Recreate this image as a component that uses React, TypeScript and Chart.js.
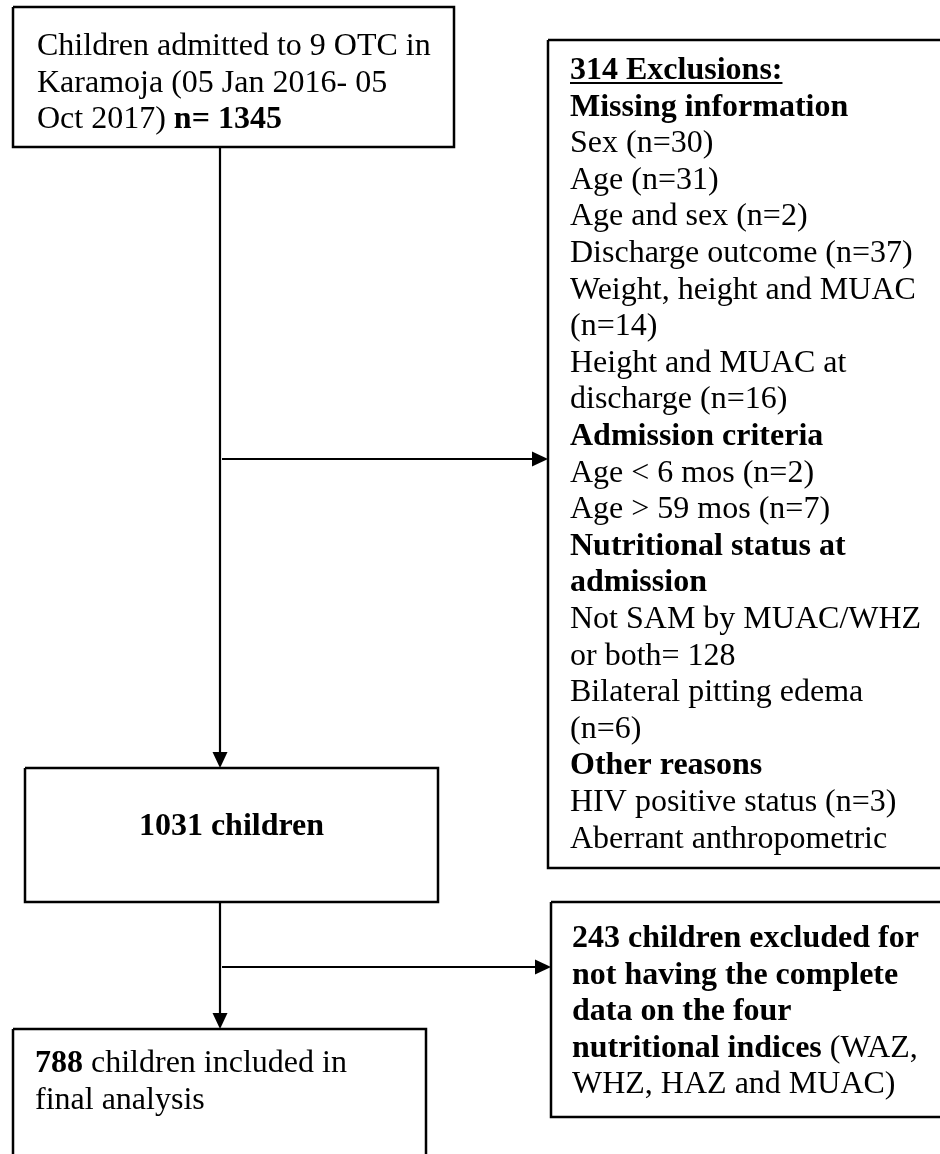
import React, { useEffect, useRef } from "react";
import { Chart, registerables } from "chart.js";

Chart.register(...registerables);

// ---- Data (texts and counts of the flow diagram) ----
// style: "n" normal, "b" bold, "u" bold + underline
type Seg = [string, "n" | "b" | "u"];

const admittedLines: Seg[][] = [
  [["Children admitted to 9 OTC in", "n"]],
  [["Karamoja (05 Jan 2016- 05", "n"]],
  [["Oct 2017) ", "n"], ["n= 1345", "b"]],
];

const exclusionLines: Seg[][] = [
  [["314 Exclusions:", "u"]],
  [["Missing information", "b"]],
  [["Sex (n=30)", "n"]],
  [["Age (n=31)", "n"]],
  [["Age and sex (n=2)", "n"]],
  [["Discharge outcome (n=37)", "n"]],
  [["Weight, height and MUAC", "n"]],
  [["(n=14)", "n"]],
  [["Height and MUAC at", "n"]],
  [["discharge (n=16)", "n"]],
  [["Admission criteria", "b"]],
  [["Age < 6 mos (n=2)", "n"]],
  [["Age > 59 mos (n=7)", "n"]],
  [["Nutritional status at", "b"]],
  [["admission", "b"]],
  [["Not SAM by MUAC/WHZ", "n"]],
  [["or both= 128", "n"]],
  [["Bilateral pitting edema", "n"]],
  [["(n=6)", "n"]],
  [["Other reasons", "b"]],
  [["HIV positive status (n=3)", "n"]],
  [["Aberrant anthropometric", "n"]],
];

const retainedLines: Seg[][] = [[["1031 children", "b"]]];

const incompleteLines: Seg[][] = [
  [["243 children excluded for", "b"]],
  [["not having the complete", "b"]],
  [["data on the four", "b"]],
  [["nutritional indices", "b"], [" (WAZ,", "n"]],
  [["WHZ, HAZ and MUAC)", "n"]],
];

const finalLines: Seg[][] = [
  [["788", "b"], [" children included in", "n"]],
  [["final analysis", "n"]],
];

// ---- Layout (positions in the diagram's coordinate space) ----
const W = 940;
const H = 1154;
const LINE_H = 36.6;
const FONT_SIZE = 32;
const FONT_FAMILY = '"Liberation Serif", "Times New Roman", serif';

type BoxLayout = {
  x0: number; y0: number; x1: number; y1: number;
  tx: number; ty: number; align: "left" | "center";
  lines: Seg[][];
};

const boxLayouts: BoxLayout[] = [
  { x0: 13, y0: 7, x1: 454, y1: 147, tx: 37, ty: 55, align: "left", lines: admittedLines },
  { x0: 548, y0: 40, x1: 960, y1: 868, tx: 570, ty: 79, align: "left", lines: exclusionLines },
  { x0: 25, y0: 768, x1: 438, y1: 902, tx: 231.5, ty: 835, align: "center", lines: retainedLines },
  { x0: 551, y0: 902, x1: 960, y1: 1117, tx: 572, ty: 947, align: "left", lines: incompleteLines },
  { x0: 13, y0: 1029, x1: 426, y1: 1180, tx: 35, ty: 1072, align: "left", lines: finalLines },
];

type Arrow = { from: [number, number]; to: [number, number] };
const arrows: Arrow[] = [
  { from: [220, 147], to: [220, 768] },
  { from: [222, 459], to: [548, 459] },
  { from: [220, 902], to: [220, 1029] },
  { from: [222, 967], to: [551, 967] },
];

const HEAD_LEN = 16;
const HEAD_HALF = 7.5;

function fontFor(style: Seg[1]) {
  return `${style === "n" ? "" : "bold "}${FONT_SIZE}px ${FONT_FAMILY}`;
}

const flowPlugin = {
  id: "flowText",
  afterDatasetsDraw(chart: any) {
    const ctx: CanvasRenderingContext2D = chart.ctx;
    const xs = chart.scales.x;
    const ys = chart.scales.y;
    ctx.save();
    ctx.fillStyle = "#000";
    ctx.strokeStyle = "#000";
    ctx.textBaseline = "alphabetic";
    ctx.textAlign = "left";

    // arrow heads
    arrows.forEach((a) => {
      const tx = xs.getPixelForValue(a.to[0]);
      const ty = ys.getPixelForValue(a.to[1]);
      const fx = xs.getPixelForValue(a.from[0]);
      const fy = ys.getPixelForValue(a.from[1]);
      const ang = Math.atan2(ty - fy, tx - fx);
      const bx = tx - HEAD_LEN * Math.cos(ang);
      const by = ty - HEAD_LEN * Math.sin(ang);
      ctx.beginPath();
      ctx.moveTo(tx, ty);
      ctx.lineTo(bx + HEAD_HALF * Math.sin(ang), by - HEAD_HALF * Math.cos(ang));
      ctx.lineTo(bx - HEAD_HALF * Math.sin(ang), by + HEAD_HALF * Math.cos(ang));
      ctx.closePath();
      ctx.fill();
    });

    // texts
    boxLayouts.forEach((b) => {
      b.lines.forEach((line, i) => {
        const y = ys.getPixelForValue(b.ty + i * LINE_H);
        let total = 0;
        line.forEach(([t, s]) => {
          ctx.font = fontFor(s);
          total += ctx.measureText(t).width;
        });
        let x = xs.getPixelForValue(b.tx);
        if (b.align === "center") x -= total / 2;
        line.forEach(([t, s]) => {
          ctx.font = fontFor(s);
          const w = ctx.measureText(t).width;
          ctx.fillText(t, x, y);
          if (s === "u") {
            ctx.lineWidth = 2;
            ctx.beginPath();
            ctx.moveTo(x, y + 4);
            ctx.lineTo(x + w, y + 4);
            ctx.stroke();
          }
          x += w;
        });
      });
    });
    ctx.restore();
  },
};

export default function App() {
  const ref = useRef<HTMLCanvasElement | null>(null);

  useEffect(() => {
    if (!ref.current) return;
    const boxDatasets = boxLayouts.map((b) => ({
      data: [
        { x: b.x0, y: b.y0 },
        { x: b.x1, y: b.y0 },
        { x: b.x1, y: b.y1 },
        { x: b.x0, y: b.y1 },
        { x: b.x0, y: b.y0 },
      ],
      showLine: true,
      borderColor: "#000",
      borderWidth: 2.5,
      borderJoinStyle: "miter" as const,
      pointRadius: 0,
      fill: false,
    }));
    const arrowDatasets = arrows.map((a) => {
      const dx = a.to[0] - a.from[0];
      const dy = a.to[1] - a.from[1];
      const len = Math.hypot(dx, dy);
      return {
        data: [
          { x: a.from[0], y: a.from[1] },
          { x: a.to[0] - (dx / len) * (HEAD_LEN - 2), y: a.to[1] - (dy / len) * (HEAD_LEN - 2) },
        ],
        showLine: true,
        borderColor: "#000",
        borderWidth: 2.2,
        pointRadius: 0,
        fill: false,
      };
    });
    const chart = new Chart(ref.current, {
      type: "scatter",
      data: { datasets: [...boxDatasets, ...arrowDatasets] as any },
      options: {
        animation: false,
        responsive: false,
        devicePixelRatio: 1,
        layout: { padding: 0 },
        events: [],
        plugins: { legend: { display: false }, tooltip: { enabled: false } },
        scales: {
          x: { type: "linear", min: 0, max: W, display: false },
          y: { type: "linear", min: 0, max: H, reverse: true, display: false },
        },
      },
      plugins: [flowPlugin],
    });
    return () => chart.destroy();
  }, []);

  return (
    <div style={{ position: "absolute", left: 0, top: 0, width: W, height: H, background: "#fff" }}>
      <canvas ref={ref} width={W} height={H} style={{ display: "block", width: W, height: H }} />
    </div>
  );
}
